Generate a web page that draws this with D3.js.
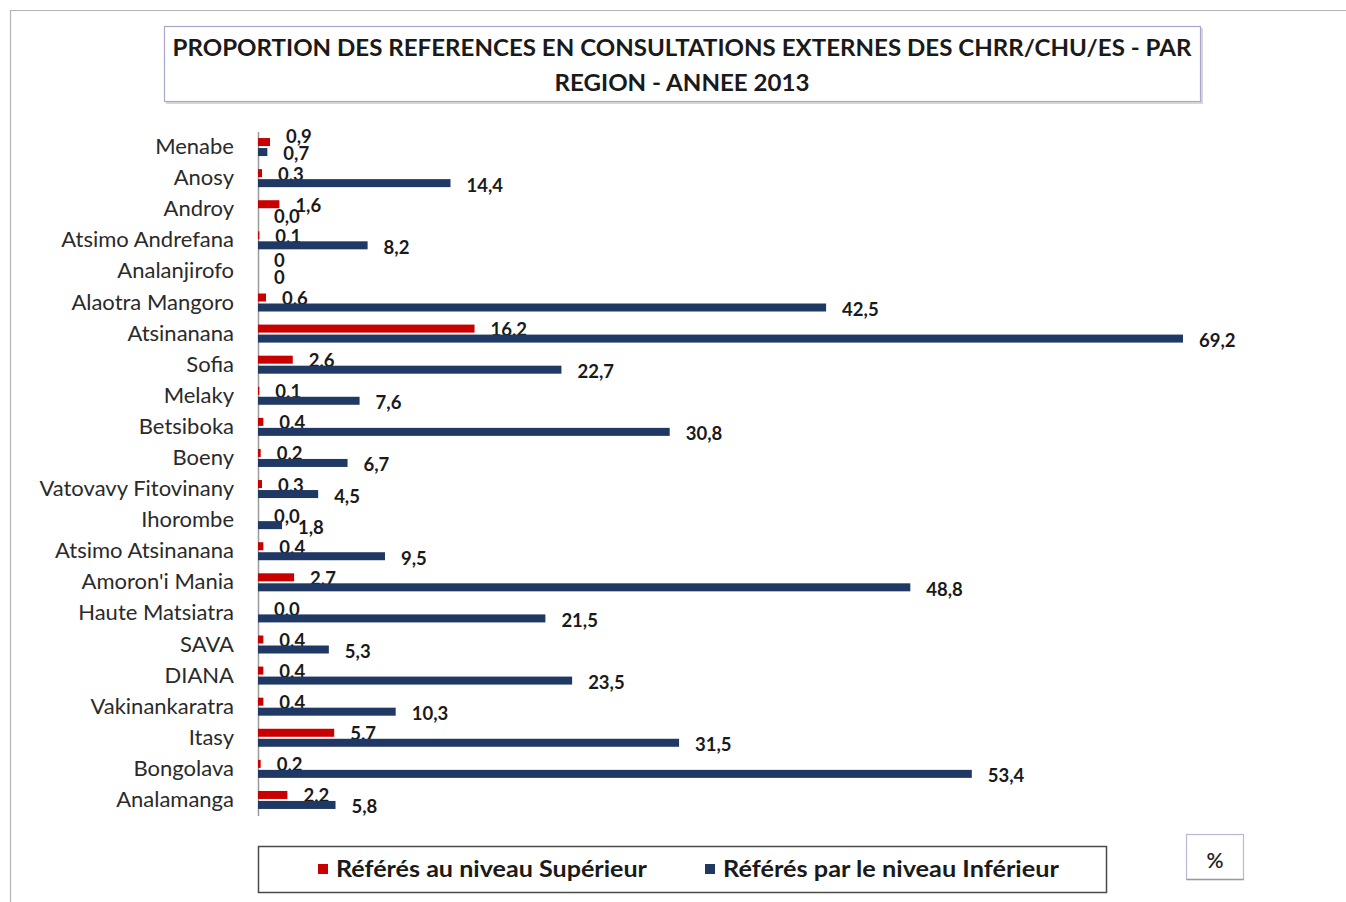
<!DOCTYPE html>
<html>
<head>
<meta charset="utf-8">
<script src="https://cdn.jsdelivr.net/npm/d3@7"></script>
<style>
  html, body { margin: 0; padding: 0; background: #fff; }
  svg { display: block; }
</style>
</head>
<body>
<svg id="chart" width="1346" height="902"></svg>
<script>
// ---- data ----
const categories = ["Menabe","Anosy","Androy","Atsimo Andrefana","Analanjirofo","Alaotra Mangoro","Atsinanana","Sofia","Melaky","Betsiboka","Boeny","Vatovavy Fitovinany","Ihorombe","Atsimo Atsinanana","Amoron'i Mania","Haute Matsiatra","SAVA","DIANA","Vakinankaratra","Itasy","Bongolava","Analamanga"];
// null = reported as "0" (no decimal) in the source
const superieur = [0.9,0.3,1.6,0.1,null,0.6,16.2,2.6,0.1,0.4,0.2,0.3,0.0,0.4,2.7,0.0,0.4,0.4,0.4,5.7,0.2,2.2];
const inferieur = [0.7,14.4,0.0,8.2,null,42.5,69.2,22.7,7.6,30.8,6.7,4.5,1.8,9.5,48.8,21.5,5.3,23.5,10.3,31.5,53.4,5.8];
const seriesNames = ["Référés au niveau Supérieur","Référés par le niveau Inférieur"];
const seriesColors = ["#c80000","#1f3864"];
const titleLines = ["PROPORTION DES REFERENCES EN CONSULTATIONS EXTERNES DES CHRR/CHU/ES - PAR","REGION - ANNEE 2013"];
const unitLabel = "%";

const FONT = "Lato, 'Open Sans', sans-serif";
const svg = d3.select("#chart");

svg.append("rect").attr("width",1346).attr("height",902).attr("fill","#fff");
// outer chart frame
svg.append("path").attr("d","M10.5,902 V10.5 H1346").attr("fill","none").attr("stroke","#b4b4b4").attr("stroke-width",1.2);

// title box
svg.append("rect").attr("x",166).attr("y",28).attr("width",1037).attr("height",76).attr("fill","#d8d8d8");
svg.append("rect").attr("x",164.5).attr("y",26.5).attr("width",1036).attr("height",75).attr("fill","#fff").attr("stroke","#a8a8cc").attr("stroke-width",1.2);
const titleW = [1019, 255];
titleLines.forEach((t, i) => {
  svg.append("text").attr("x",682).attr("y",[56,91][i]).attr("text-anchor","middle")
    .attr("textLength", titleW[i]).attr("lengthAdjust","spacingAndGlyphs")
    .style("font-family",FONT).style("font-weight","bold").style("font-size","22px").attr("fill","#1a1a1a")
    .text(t);
});

// scales
const x = d3.scaleLinear().domain([0, 69.2]).range([258, 1183]);
const y = d3.scaleBand().domain(categories).range([131.5, 815.5]).padding(0);
const ySub = d3.scaleBand().domain([0,1]).range([-9, 9]).paddingInner(0.2);

// axis
const axis = d3.axisLeft(y).tickSizeInner(0).tickSizeOuter(0).tickPadding(24);
const gAxis = svg.append("g").attr("transform","translate(258,0)").call(axis);
gAxis.select(".domain").attr("stroke","#9a9a9a").attr("stroke-width",1.5);
gAxis.selectAll("text").style("font-family",FONT).style("font-size","22px").attr("fill","#2a2a2a");

const series = [superieur, inferieur];
const fmt = v => v === null ? "0" : d3.format(".1f")(v).replace(".", ",");
// nudge labels apart when both series' labels start at the same spot
const nudge = (i, si) => {
  const close = Math.abs(x(superieur[i] || 0) - x(inferieur[i] || 0)) < 5;
  if (!close) return 0;
  return si === 0 ? -7 : -1;
};

series.forEach((vals, si) => {
  const g = svg.append("g");
  g.selectAll("rect").data(vals).join("rect")
    .attr("x", x(0))
    .attr("y", (d,i) => y(categories[i]) + y.bandwidth()/2 + ySub(si))
    .attr("width", d => x(d || 0) - x(0))
    .attr("height", ySub.bandwidth())
    .attr("fill", seriesColors[si]);
  g.selectAll("text").data(vals).join("text")
    .attr("x", d => x(d || 0) + 16)
    .attr("y", (d,i) => y(categories[i]) + y.bandwidth()/2 + ySub(si) + ySub.bandwidth()/2 + (si === 0 ? 1 : 2) + nudge(i, si))
    .attr("dy","0.35em")
    .style("font-family",FONT).style("font-weight","bold").style("font-size","18.5px").attr("fill","#1a1a1a")
    .text(d => fmt(d));
});

// legend
svg.append("rect").attr("x",258.5).attr("y",846.5).attr("width",848).attr("height",46).attr("fill","#fff").attr("stroke","#4a4a4a").attr("stroke-width",1.5);
const legX = [318, 705];
const legW = [311, 336];
seriesNames.forEach((n, i) => {
  svg.append("rect").attr("x",legX[i]).attr("y",864).attr("width",10).attr("height",10).attr("fill",seriesColors[i]);
  svg.append("text").attr("x",legX[i]+18).attr("y",869).attr("dy","0.35em")
    .attr("textLength", legW[i]).attr("lengthAdjust","spacingAndGlyphs")
    .style("font-family",FONT).style("font-weight","bold").style("font-size","22px").attr("fill","#1a1a1a").text(n);
});

// unit box
svg.append("rect").attr("x",1186.5).attr("y",834.5).attr("width",57).attr("height",45).attr("fill","#fff").attr("stroke","#b8b8d8").attr("stroke-width",1.2);
svg.append("line").attr("x1",1186.5).attr("x2",1243.5).attr("y1",879.5).attr("y2",879.5).attr("stroke","#9a9a9a").attr("stroke-width",1.5);
svg.append("text").attr("x",1215).attr("y",861).attr("dy","0.35em").attr("text-anchor","middle")
  .style("font-family",FONT).style("font-weight","600").style("font-size","21px").attr("fill","#222").text(unitLabel);
</script>
</body>
</html>
